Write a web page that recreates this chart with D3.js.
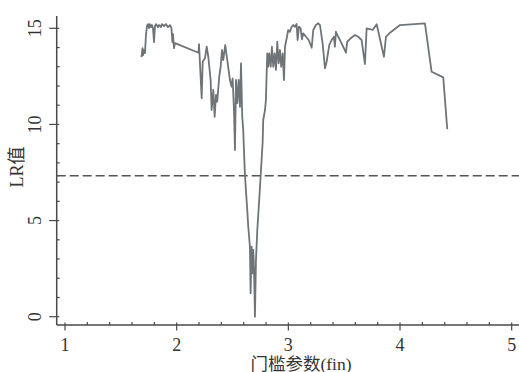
<!DOCTYPE html>
<html><head><meta charset="utf-8">
<script src="https://cdn.jsdelivr.net/npm/d3@7"></script>
<style>
body{margin:0;background:#fff;}
svg{display:block;}
text{font-family:"Liberation Serif","Times New Roman",serif;fill:#333;}
</style></head>
<body>
<script>
// Threshold parameter (fin) values
const fin = [1.685,1.694,1.698,1.707,1.716,1.725,1.734,1.743,1.752,1.761,1.770,1.779,1.788,1.797,1.806,1.815,1.833,1.842,1.859,1.868,1.886,1.904,1.922,1.940,1.953,1.962,1.967,1.976,1.985,
2.196,2.200,2.224,2.233,2.253,2.269,2.283,2.304,2.313,2.328,2.340,2.352,2.363,2.381,2.394,2.406,2.417,2.435,2.453,2.477,2.492,2.501,2.513,2.522,2.531,2.543,2.555,2.567,2.576,2.587,2.596,2.605,2.612,2.620,2.632,2.641,2.656,2.662,2.671,2.680,2.686,2.692,2.701,2.710,2.722,2.739,2.752,2.770,2.775,2.791,2.799,2.811,2.820,2.829,2.842,2.853,2.865,2.877,2.889,2.901,2.913,2.925,2.936,2.949,2.961,2.970,2.985,2.999,
3.014,3.030,3.044,3.059,3.074,3.083,3.095,3.110,3.122,3.133,3.158,3.182,3.209,3.223,3.247,3.268,3.283,3.307,3.328,3.343,3.366,3.388,3.408,3.417,3.426,3.447,3.477,3.516,3.527,3.558,3.596,3.626,3.656,3.686,3.701,3.737,3.755,3.791,3.826,3.856,3.874,3.910,4.000,4.223,4.283,4.387,4.423];
// LR statistic values
const lr = [13.50,13.97,13.60,13.87,13.71,14.65,15.12,15.22,15.01,15.22,15.06,15.17,15.01,14.28,15.12,15.22,15.06,15.17,15.06,15.22,15.12,15.22,15.06,15.17,15.01,14.28,14.70,13.97,14.23,
13.73,14.18,11.36,13.26,13.44,14.04,13.52,12.31,10.75,11.79,10.40,11.53,11.18,12.48,13.00,13.87,13.35,14.13,13.35,12.31,11.96,12.40,10.75,8.67,12.31,11.10,12.31,10.92,13.18,10.40,9.71,8.25,7.32,6.59,5.55,4.68,3.64,1.22,3.64,2.26,3.47,2.60,0.00,2.95,4.51,6.07,7.32,9.10,10.23,10.75,11.27,13.70,13.00,13.70,13.00,14.04,13.00,13.70,12.83,14.30,13.18,13.87,13.00,13.70,12.31,14.04,14.48,14.91,
14.82,15.08,15.17,15.08,15.22,14.39,15.08,15.00,14.43,14.74,14.56,14.39,13.99,14.91,15.17,15.26,15.17,14.22,12.92,13.26,14.13,14.39,14.56,14.04,14.82,14.56,14.22,13.73,14.30,14.48,14.65,14.56,14.39,13.14,15.00,14.95,14.91,15.21,14.30,13.52,14.56,14.77,15.17,15.26,12.74,12.45,9.75];
const criticalValue = 7.33;
const xTicks = [1,2,3,4,5];
const yTicks = [0,5,10,15];
const xLabel = "门槛参数(fin)";
const yLabel = "LR值";

const W = 519, H = 372;
const svg = d3.select("body").append("svg").attr("width", W).attr("height", H);

const x = d3.scaleLinear().domain([1,5]).range([65,511.7]);
const y = d3.scaleLinear().domain([0,15]).range([316.7,28.3]);
const xLeft = 56.7, xRight = 519, yBottom = 325, yTop = 16;
const axisCol = "#4a4a4a";

// x axis
const xMinor = d3.range(1,5.01,0.2).map(v=>+v.toFixed(1)).filter(v=>!xTicks.includes(v));
const gx = svg.append("g").attr("transform",`translate(0,${yBottom})`);
gx.append("line").attr("x1",xLeft).attr("x2",xRight).attr("stroke",axisCol).attr("stroke-width",1.5);
gx.selectAll(".mx").data(xMinor).join("line")
  .attr("x1",d=>x(d)).attr("x2",d=>x(d)).attr("y1",-3).attr("y2",0)
  .attr("stroke",axisCol).attr("stroke-width",1.2);
gx.selectAll(".Mx").data(xTicks).join("line")
  .attr("x1",d=>x(d)).attr("x2",d=>x(d)).attr("y1",-2.5).attr("y2",5.5)
  .attr("stroke",axisCol).attr("stroke-width",1.2);
gx.selectAll(".tx").data(xTicks).join("text")
  .attr("x",d=>x(d)).attr("y",25.5).attr("text-anchor","middle")
  .attr("font-size",18).text(d=>d);

// y axis
const yMinor = d3.range(0,16,1).filter(v=>!yTicks.includes(v));
const gy = svg.append("g").attr("transform",`translate(${xLeft},0)`);
gy.append("line").attr("y1",yTop).attr("y2",yBottom).attr("stroke",axisCol).attr("stroke-width",1.5);
gy.selectAll(".my").data(yMinor).join("line")
  .attr("y1",d=>y(d)).attr("y2",d=>y(d)).attr("x1",0).attr("x2",3)
  .attr("stroke",axisCol).attr("stroke-width",1.2);
gy.selectAll(".My").data(yTicks).join("line")
  .attr("y1",d=>y(d)).attr("y2",d=>y(d)).attr("x1",-7.5).attr("x2",2.5)
  .attr("stroke",axisCol).attr("stroke-width",1.2);
gy.selectAll(".ty").data(yTicks).join("text")
  .attr("transform",d=>`translate(-16,${y(d)}) rotate(-90)`)
  .attr("text-anchor","middle").attr("font-size",18).text(d=>d);

// axis titles
svg.append("text").attr("x",301).attr("y",369.5).attr("text-anchor","middle")
  .attr("font-size",17.5).style("font-family",'"Liberation Serif","Noto Sans CJK SC",serif').text(xLabel);
svg.append("text").attr("transform",`translate(23,167) rotate(-90)`).attr("text-anchor","middle")
  .attr("font-size",18).style("font-family",'"Liberation Serif","Noto Sans CJK SC",serif').text(yLabel);

// critical value line
svg.append("line").attr("x1",xLeft).attr("x2",xRight)
  .attr("y1",y(criticalValue)).attr("y2",y(criticalValue))
  .attr("stroke","#555").attr("stroke-width",1.5).attr("stroke-dasharray","9,4");

// LR line
const pts = fin.map((f,i)=>[f,lr[i]]);
svg.append("path").datum(pts)
  .attr("d",d3.line().x(d=>x(d[0])).y(d=>y(d[1])))
  .attr("fill","none").attr("stroke","#6f7478").attr("stroke-width",1.8).attr("stroke-linejoin","round");
</script>
</body></html>
